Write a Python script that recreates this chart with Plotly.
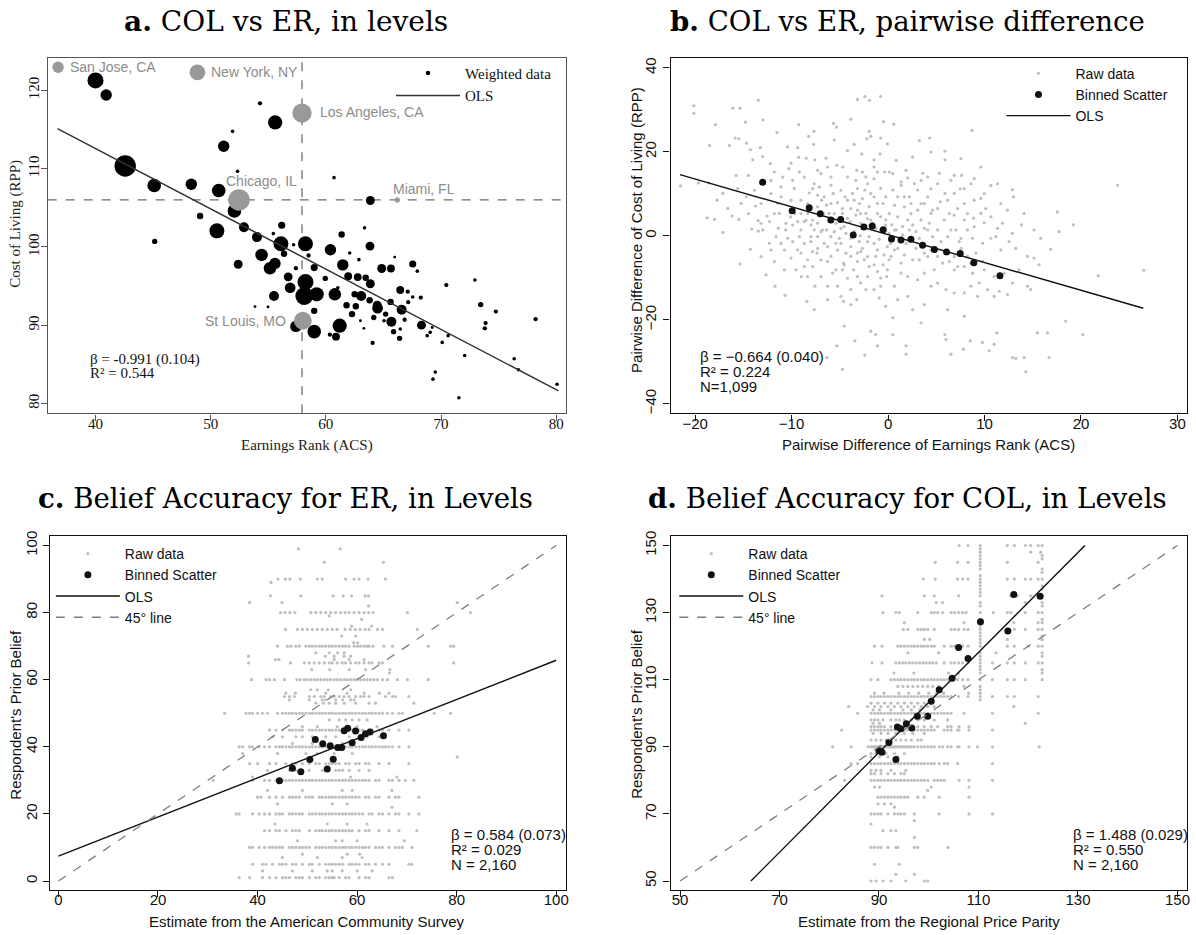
import plotly.graph_objects as go

# ---------------- Panel a: COL vs ER, in levels ----------------
a_er = [40.0,40.93,54.28,55.6,51.9,51.13,42.58,52.33,60.71,45.1,48.32,50.7,63.86,52.06,49.08,63.36,52.89,50.54,56.17,54.02,
        45.14,61.37,55.44,56.1,58.23,63.83,57.2,60.4,54.42,56.37,58.5,62.07,62.87,65.98,52.39,61.47,67.54,57.4,55.15,55.58,
        58.99,64.85,65.65,67.94,59.95,61.94,62.77,63.46,56.73,58.23,63.86,70.46,72.94,56.9,61.04,66.46,67.11,60.78,62.5,63.07,
        58.13,59.2,55.5,68.24,67.54,67.15,65.62,63.8,64.46,73.44,74.76,64.49,61.8,62.6,66.58,58.99,53.85,54.98,65.19,62.27,
        63.0,64.16,65.05,65.69,66.84,61.2,68.3,69.23,73.87,73.8,78.21,57.4,58.99,63.3,65.88,66.46,60.35,60.88,66.4,68.8,
        69.06,70.62,64.06,70.1,72.05,76.35,76.72,69.5,69.3,71.55,80.07]
a_col = [121.27,119.4,118.35,115.9,114.76,112.86,110.33,109.65,108.85,107.84,108.0,107.2,105.93,104.6,103.95,102.43,102.5,102.05,102.77,101.25,
         100.7,101.58,101.7,100.4,100.4,100.1,100.27,99.64,98.97,99.13,98.9,99.22,98.37,98.7,97.78,97.7,97.82,97.27,97.27,97.87,
         97.36,97.24,97.24,96.9,95.97,96.26,96.14,96.05,96.17,95.5,95.29,95.12,95.76,94.78,94.78,94.49,94.28,93.94,93.94,93.73,
         93.73,93.94,93.73,93.52,93.6,92.93,92.97,93.18,92.55,92.63,91.74,92.16,92.55,92.42,91.96,91.83,92.37,92.33,91.41,91.41,
         90.56,90.98,90.56,90.43,90.69,89.93,90.0,89.7,90.26,89.59,90.77,89.84,89.17,89.59,89.17,89.5,88.78,88.53,88.32,88.66,
         89.08,88.66,87.73,87.8,86.12,85.7,84.31,84.0,83.1,80.72,82.45]
a_weight = [45,32,12,40,10,32,60,10,10,38,32,38,25,38,18,10,28,42,20,28,
            15,18,10,42,42,25,10,32,35,18,12,10,10,8,25,32,20,12,35,32,
            20,25,22,10,15,22,22,18,25,45,25,12,10,30,10,22,12,35,18,28,
            50,40,28,12,10,12,18,18,25,15,12,30,18,18,28,18,8,8,15,18,
            8,15,10,28,12,40,25,8,12,12,12,32,38,8,15,10,12,22,15,10,
            10,10,12,10,10,10,10,10,10,10,10]
city_names = ["San Jose, CA", "New York, NY", "Los Angeles, CA", "Chicago, IL", "Miami, FL", "St Louis, MO"]
city_er = [36.75, 48.85, 57.93, 52.46, 66.2, 58.0]
city_col = [122.96, 122.3, 117.1, 106.0, 106.0, 90.56]
city_weight = [32, 44, 54, 60, 15, 50]
a_ref_er = 57.93
a_ref_col = 106.0
a_ols_x = [36.7, 80.2]
a_ols_y = [115.1, 81.6]

# ---------------- Panel b: pairwise differences ----------------
b_raw = [(-20.13,30.98),(-20.13,29.17),(-16.09,30.4),(-15.34,30.4),(-13.44,32.3),(-17.89,26.5),(-14.78,27.1),(-12.96,27.6),
 (-9.27,26.5),(-5.65,26.8),(-5.34,25.9),(-3.86,27.8),(-3.17,32.5),(-2.41,33.2),(-1.93,32.3),(-0.76,33.2),(-0.48,27.2),
 (-1.96,24.9),(-1.79,23.7),(-2.2,23.1),(-0.76,23.3),(-7.68,24.9),(-8.23,23.7),(-11.51,24.6),(-15.85,23.3),(-15.47,23.1),
 (-16.44,21.5),(-14.68,22.1),(-18.51,21.5),(-14.27,20.5),(-13.24,21.0),(-12.99,18.9),(-12.2,17.2),(-14.02,18.1),
 (-10.41,21.2),(-9.37,21.0),(-7.72,21.8),(-5.58,22.8),(-4.2,20.3),(-3.51,21.8),(-2.72,19.5),(-1.45,18.1),(-0.82,19.5),
 (-0.07,21.9),(-10.06,17.3),(-9.27,18.7),(-8.48,18.5),(-7.58,18.1),(-6.44,18.5),(-6.27,16.4),(-5.31,16.8),(-4.69,16.4),
 (-3.24,15.6),(-2.66,15.2),(-1.45,16.4),(-0.35,15.2),(-15.75,14.4),(-14.47,14.4),(-11.79,15.2),(-10.92,14.0),(-10.3,16.0),
 (-12.13,13.2),(-18.58,12.6),(-19.65,12.6),(-21.51,11.9),(-17.13,10.1),(-17.71,8.5),(-18.75,4.3),(-17.99,3.9),(-17.13,0.8),
 (-16.16,4.7),(-15.47,3.9),(-15.23,7.7),(-14.47,5.3),(-13.75,7.1),(-13.47,3.6),(-12.54,4.7),(-12.3,3.4),(-14.13,1.6),
 (-13.44,1.1),(-11.37,1.8),(-10.61,1.4),(-10.41,-0.6),(-10.1,4.5),(-9.65,5.3),(-9.37,3.4),(-8.51,3.7),(-7.99,2.6),
 (-7.65,1.4),(-7.3,6.9),(-6.68,5.3),(-6.37,1.4),(-5.92,-0.2),(-5.06,-0.6),(-4.55,2.2),(-3.93,3.4),(-2.89,0.0),(-2.13,-1.4),
 (-1.45,-1.8),(-0.93,-0.8),(-0.07,-2.6),(-8.17,10.2),(-7.65,12.4),(-7.13,11.6),(-6.62,9.3),(-5.69,10.1),(-5.24,7.9),
 (-4.45,9.3),(-3.69,10.1),(-2.97,7.7),(-2.41,10.9),(-1.45,9.3),(-0.76,11.3),(-0.52,7.7),(-9.03,8.5),(-9.72,11.3),
 (-8.69,14.0),(-11.44,7.7),(-11.1,9.3),(-3.86,6.5),(-2.86,5.3),(-2.13,4.1),(-1.1,5.3),(-8.69,-1.8),(-9.03,-4.1),
 (-8.34,-5.7),(-7.37,-4.1),(-6.62,-1.8),(-5.92,-4.9),(-5.24,-3.4),(-4.62,-6.5),(-3.86,-4.9),(-3.58,-8.1),(-3.17,-4.1),
 (-2.48,-5.7),(-1.96,-7.3),(-1.28,-4.9),(-0.52,-6.9),(0.1,-5.7),(-11.1,-1.8),(-12.13,-3.4),(-12.99,1.4),(-14.27,-3.2),
 (-15.34,-6.7),(-12.65,-9.3),(-11.72,-12.0),(-10.68,-14.2),(-10.06,-5.3),(-9.54,-8.1),(-8.34,-9.7),(-7.58,-12.0),
 (-6.96,-9.7),(-6.27,-12.0),(-5.24,-12.0),(-4.72,-8.1),(-4.2,-10.1),(-3.86,-12.8),(-2.86,-11.2),(-2.13,-9.7),(-1.45,-12.8),
 (-0.76,-12.0),(-0.14,-9.7),(-8.41,-15.6),(-4.62,-15.6),(-3.86,-16.4),(-3.24,-15.2),(-0.93,-14.8),(-0.24,-16.8),
 (-4.55,-21.5),(-3.44,-25.0),(-1.79,-22.7),(-1.28,-23.5),(-1.1,-26.2),(-5.31,-26.2),(-2.41,-28.4),(-6.34,-29.0),(-4.72,-31.8),
 (0.59,26.6),(4.31,23.3),(8.69,25.1),(5.9,20.2),(5.9,18.1),(0.14,15.2),(0.49,14.8),(2.04,13.8),(3.59,14.9),(5.31,14.9),
 (6.86,14.4),(7.62,14.4),(11.35,12.4),(10.66,12.0),(12.89,11.0),(13.0,9.3),(9.62,8.9),(10.13,6.5),(8.59,12.4),(7.49,11.2),
 (5.9,10.1),(4.45,11.2),(3.07,10.9),(1.69,9.3),(0.66,7.3),(1.0,4.5),(2.38,5.3),(3.42,3.8),(4.62,6.1),(5.42,8.1),(6.35,5.3),
 (7.21,6.5),(8.24,5.3),(8.86,4.2),(9.97,3.1),(11.17,-0.2),(11.86,3.0),(12.89,0.6),(13.83,2.6),(12.55,-1.4),(13.24,-3.0),
 (14.44,-4.9),(15.13,-5.3),(15.65,-6.9),(16.86,-3.2),(17.72,1.0),(19.2,2.6),(17.55,5.7),(0.31,-4.9),(1.35,-6.5),(2.55,-5.7),
 (3.76,-4.1),(4.79,-8.1),(5.66,-6.5),(6.86,-4.9),(7.9,-7.3),(8.76,-8.9),(9.45,-11.2),(10.31,-12.8),(11.0,-14.4),
 (11.52,-13.2),(12.38,-14.0),(14.44,-12.0),(14.79,-12.8),(0.66,-12.0),(1.0,-15.2),(2.55,-17.6),(3.42,-20.7),(0.49,-19.5),
 (0.49,-23.5),(1.87,-26.2),(1.87,-28.2),(5.9,-23.5),(6.0,-24.7),(6.52,-28.2),(7.83,-27.0),(8.52,-25.0),(9.79,-25.4),
 (10.48,-27.4),(11.0,-25.8),(11.28,-23.1),(12.89,-29.0),(13.24,-29.2),(14.1,-29.0),(14.28,-32.4),(15.48,-23.1),
 (16.52,-23.1),(16.69,-29.0),(18.41,-20.3),(20.2,-23.5),(21.79,-9.5),(23.8,12.1),(26.5,-8.2),
 (0.14,5.3),(0.38,2.6),(0.83,1.4),(1.52,2.2),(2.04,3.8),(2.55,2.6),(2.9,1.0),(3.24,-0.6),(4.11,1.4),(4.28,3.0),(5.14,1.4),
 (5.49,-1.4),(6.18,-0.2),(7.04,1.4),(7.56,-0.6),(8.24,1.4),(0.24,-1.8),(1.0,-3.0),(1.87,-1.8),(2.9,-3.0),(4.45,-3.4),
 (5.14,-4.9),(6.18,-3.7),(7.56,-3.0),(8.24,-4.9),(9.11,-4.1),(9.8,-6.1),(6.86,-8.1),(3.76,-8.9),(2.04,-9.7),(4.45,-12.0),
 (6.0,-12.8),(7.9,-13.6),(8.59,-12.0),(0.49,10.9),(1.35,12.0),(2.21,9.3),(3.42,7.7),(4.11,9.3),(6.18,8.5),(6.86,10.1),
 (7.9,7.7),(8.93,8.5),(5.14,12.4),(3.42,13.2),(1.87,15.6),(-7.3,3.0),(-5.58,5.3),(-4.89,3.8),(-3.17,6.1),(-2.48,2.2),
 (-1.62,3.0),(-0.76,1.4),(-0.24,3.8),(-3.51,1.0),(-4.89,-1.8),(-3.86,-2.6),(-2.66,-3.0),(-7.99,-0.2),(-6.96,1.0),
 (-7.3,-3.0),(-6.27,-6.1),(-5.41,-8.1),(-7.82,-7.3),(-8.99,-9.7),(-1.1,-8.5),(-0.07,-8.1),(-3.17,-9.7),(-9.03,5.3),
 (-8.34,7.7),(-5.92,7.7),(-4.72,6.5),(-1.96,6.9),(-3.51,8.5),(-1.45,13.6),(-4.2,14.0),(-5.92,14.0),(-7.3,15.6),
 (-2.13,12.4),(-10.06,8.5),(-11.79,5.3),(-13.16,3.0),(-10.75,-3.4),(-9.89,-1.4),
 (-7.82,11.25),(-7.3,9.67),(-6.89,8.49),(-6.37,7.3),(-6.1,5.34),(-5.75,4.15),(-5.41,2.97),(-4.89,1.78),(-4.37,0.6),
 (-6.79,1.39),(-5.58,0.99),(-4.72,5.34),(-4.2,4.15),(-3.34,4.94),(-2.82,2.97),(-2.3,5.34),(-1.79,3.76),(-1.27,1.78),
 (-0.76,4.54),(-0.24,2.57),(0.1,0.6),(-1.96,-0.19),(-2.99,-1.37),(-3.86,-0.58),(-2.82,-3.75),(-2.13,-4.94),(-1.1,-3.35),
 (-0.41,-4.54),(-7.99,-1.37),(-7.3,-0.19),(-6.27,-2.56),(-5.41,-1.77),(-4.37,-4.14),(-6.96,-5.73),(-7.82,-3.75),
 (-9.03,1.39),(-9.2,-0.19),(-9.89,2.57),(-8.68,3.36),(-8.33,5.34),(-7.82,3.76),(-5.92,12.04),(-4.89,10.86),(-4.2,8.49),
 (-3.17,11.25),(-2.65,8.88),(-1.79,10.07),(-1.1,7.7),(-0.24,9.28),(-2.3,14.02),(-3.34,13.23),(-1.1,15.2),(-6.96,14.8),
 (-9.2,15.2),(-9.89,13.23),(-11.1,11.65),(-12.13,10.07),(-13.16,7.7),(-13.85,10.86),(-14.71,9.28),(-15.58,11.25),
 (-16.61,6.52),(-11.27,5.34),(-10.58,2.97),(-11.61,-0.19),(-12.3,-1.77),(-13.16,-4.94),(-11.78,-6.12),(-10.75,-8.09),
 (-9.37,-3.35),(-8.68,-7.3),(-5.75,-8.88),(-4.55,-6.91),(-3.17,-6.12),(-1.44,-6.91),(-0.76,-10.07),(-2.3,-12.83),
 (-4.89,-14.41),(-6.27,-15.2),(-7.65,-17.56),
 (1.0,9.28),(1.69,6.91),(2.38,7.7),(3.07,6.12),(3.76,7.7),(4.45,5.34),(5.14,6.52),(5.83,3.76),(6.86,4.94),(7.9,3.76),
 (8.93,2.18),(9.62,5.34),(10.66,4.54),(11.35,1.78),(0.66,1.39),(1.52,0.21),(2.21,1.39),(3.76,1.78),(4.62,-0.19),
 (6.52,1.39),(7.38,-1.37),(8.76,-0.58),(9.8,-1.77),(10.66,-0.58),(11.69,-3.35),(0.66,-3.35),(1.69,-4.54),(3.24,-5.73),
 (4.11,-4.94),(6.35,-6.12),(7.21,-7.3),(8.59,-6.52),(9.97,-8.09),(11.0,-9.67),(12.03,-8.88),(12.89,-11.25),(13.58,-8.09),
 (1.35,-8.88),(3.07,-10.46),(5.14,-11.25),(6.86,-13.62),(9.28,-14.41),(2.04,-14.41),(3.76,-16.38),(6.18,-17.56),
 (7.9,-19.14),(1.35,12.83),(2.73,12.44),(4.11,14.02),(6.52,13.23),(7.9,11.25),(8.93,13.62),(9.97,10.07),(11.69,7.7),
 (12.38,6.12),(14.1,5.34),(15.13,1.39),(15.82,-0.58),(0.83,17.97),(2.55,18.75),(4.45,19.94),(7.56,18.36),(9.62,16.39),
 (3.24,22.71)]
b_bin_x = [-13.0,-9.94,-8.17,-7.03,-5.93,-4.91,-3.61,-2.51,-1.64,-0.5,0.36,1.34,2.37,3.58,4.8,6.06,7.48,8.89,11.6]
b_bin_y = [12.76,5.96,6.67,5.25,3.75,3.91,0.2,2.09,2.33,1.46,-0.75,-0.99,-0.83,-2.25,-3.28,-3.83,-4.23,-6.44,-9.5]
b_ols_x = [-21.57, 26.46]
b_ols_y = [14.57, -17.26]

# ---------------- Panel c: belief accuracy, ER ----------------
c_rows_y = [99,95,90,89,85,83,82,80,79,78,76,75,73,71,70,68,67,66,65,63,62,60,57,56,55,54,53,50,
            48,46,45,43,41,40,38,37,35,33,31,30,27,25,23,22,20,17,15,12,10,8,7,5,3,1]
c_rows_x = [
 [48.2,56.6],
 [53.4,65.3],
 [44.1,45.6,46.5,48.6,52.0,53.0,57.7,59.4,60.4,62.2,65.7],
 [42.7],
 [42.6,48.7,55.2,57.2,58.9,61.6,62.3],
 [38.4,44.9,80.1],
 [62.3],
 [44.6,45.5,46.5,47.5,50.7,51.7,52.7,53.7,54.7,55.7,56.7,57.6,58.4,59.4,60.4,61.4,62.3,63.2,70.1,82.8],
 [54.4],
 [60.9],
 [58.9,62.9],
 [45.6,48.0,49.0,50.0,51.0,52.0,53.0,54.0,55.0,56.0,57.6,58.6,59.6,60.6,61.6,62.4,64.1,65.1,72.1],
 [56.9,59.7],
 [59.3,60.1],
 [44.0,46.0,46.7,47.7,48.4,49.7,50.4,51.0,51.7,52.4,53.0,53.7,54.4,55.0,55.7,56.4,57.1,57.7,58.4,59.4,60.1,60.7,61.4,62.0,62.4,63.2,65.4,67.1,74.3,78.8,79.4],
 [51.7,54.4,56.1,57.4],
 [38.2,53.6,55.4,57.4,58.7],
 [43.6,44.3,55.4,58.4,61.4],
 [38.2,46.6,49.4,50.4,51.4,52.4,53.4,54.4,55.0,56.0,57.0,57.7,58.7,59.7,60.4,61.4,62.4,63.0,64.4,65.1,79.4],
 [50.9,54.5,58.4,61.7,66.6],
 [66.5],
 [38.8,41.7,42.4,43.4,45.4,47.9,48.6,49.4,50.0,50.7,51.4,52.0,52.7,53.4,54.0,54.7,55.4,56.0,56.7,57.4,58.0,58.7,59.4,60.0,60.7,61.4,62.0,62.7,63.4,64.1,65.1,66.1,68.1,70.1,74.3],
 [50.7,52.0,54.2,58.7],
 [45.7,47.6,53.7,58.0,61.4,64.5,66.4],
 [45.4,46.4,47.4,50.4,51.4,52.7,53.4,54.7,55.4,56.4,57.4,58.4,59.7,60.7,61.4,62.4,65.7,67.1,67.7,70.4],
 [46.4,50.4,53.0,53.7,55.7,57.1,58.7,59.4],
 [51.7,53.2,54.4,55.7,57.4,59.7,62.4,63.7,71.4],
 [33.4,37.7,38.4,39.0,40.0,41.0,42.0,44.0,45.0,45.7,46.4,47.0,47.7,48.4,49.0,49.7,50.4,51.0,51.7,52.4,53.0,53.7,54.4,55.0,55.7,56.4,57.1,57.7,58.4,59.0,59.7,60.4,61.1,61.7,62.4,63.0,63.7,64.4,65.1,66.1,67.1,68.4,69.1,75.5,78.8],
 [54.4,56.4,57.7,59.0,60.4,62.0],
 [49.0,52.0,56.0,58.0,60.0,64.0],
 [42.4,43.7,45.0,46.4,47.0,47.7,48.4,49.0,50.4,51.0,51.7,52.4,53.0,53.7,54.4,55.0,55.7,56.4,57.1,57.7,58.4,59.0,59.7,60.4,61.1,62.4,63.0,64.4,65.1,66.4,68.4,70.4],
 [43.0,45.0,47.7,49.0,51.0,53.7,55.7,58.4,62.0,64.4],
 [47.0,51.0,53.0,57.0],
 [36.3,37.0,38.4,39.0,40.3,41.4,42.4,43.7,44.4,45.0,45.7,46.4,47.0,47.7,48.4,49.0,49.7,50.4,51.0,51.7,52.4,53.0,53.7,54.4,55.0,55.7,56.4,57.1,57.7,58.4,59.0,59.7,60.4,61.1,61.7,62.4,63.0,63.7,64.4,65.1,65.7,66.4,67.1,68.4,70.4],
 [37.0,44.0,49.7,52.0,55.4,59.0],
 [80.1],
 [38.4,40.0,42.4,43.7,45.7,47.0,47.7,49.0,50.4,51.7,52.4,53.7,54.4,55.0,55.7,56.4,57.7,58.4,59.7,60.4,61.7,62.4,64.4,66.4,70.4],
 [42.0,46.4,47.7,50.4,53.0,55.7,56.4,57.1,58.4,60.4,62.4],
 [39.0,58.7,68.0],
 [31.1,39.0,41.4,42.4,43.7,44.4,45.0,45.7,46.4,47.0,47.7,48.4,49.0,49.7,50.4,51.0,51.7,52.4,53.0,53.7,54.4,55.0,55.7,56.4,57.1,57.7,58.4,59.0,59.7,60.4,61.1,61.7,62.4,63.7,64.4,66.4,67.1,68.4,69.7,71.4],
 [42.0,49.0,57.0,59.0,67.0],
 [40.0,40.7,42.4,43.7,45.0,46.4,47.0,47.7,48.4,49.7,50.4,51.0,52.4,53.0,53.7,54.4,55.0,55.7,56.4,57.1,57.7,58.4,59.0,59.7,60.4,61.7,62.4,63.7,64.4,66.4,67.7,68.4,72.4],
 [44.0,55.0,58.0],
 [67.0],
 [35.7,36.3,39.0,40.3,41.4,42.4,43.7,44.4,45.0,46.4,47.0,47.7,48.4,49.0,50.4,51.0,51.7,52.4,53.0,53.7,54.4,55.0,55.7,56.4,57.1,57.7,58.4,59.0,59.7,60.4,61.1,62.4,63.0,64.4,65.1,66.4,67.7,68.4,70.4,72.4],
 [43.5,54.0,58.0,62.0],
 [41.4,42.4,43.7,44.4,45.7,47.0,47.7,48.4,50.4,51.7,52.4,53.0,53.7,54.4,55.0,55.7,56.4,57.1,57.7,58.4,59.0,60.4,61.7,62.4,64.4,66.4,68.4,72.0],
 [48.0,55.7,57.0,60.0,69.5],
 [38.4,39.0,40.3,41.4,42.4,43.0,43.7,44.4,45.0,46.4,47.0,47.7,48.4,49.0,49.7,50.4,51.7,52.4,53.0,53.7,54.4,55.0,55.7,56.4,57.1,57.7,58.4,59.0,59.7,60.4,61.1,61.7,62.4,63.7,64.4,65.1,66.4,67.7,68.4,69.1,71.0],
 [49.0,58.0,60.5],
 [45.0,52.0,57.0,61.0],
 [39.0,41.0,41.7,43.0,44.4,45.0,45.7,47.0,47.7,49.0,50.4,51.0,52.4,53.7,54.4,55.0,55.7,56.4,57.1,58.4,59.0,59.7,60.4,61.7,62.4,63.7,65.1,66.4,70.4,71.0],
 [41.0,47.0,51.0,54.0,55.0,57.0,60.0,63.0],
 [36.3,38.4,41.0,42.4,43.7,45.0,45.7,46.4,47.7,48.4,49.0,50.4,51.7,52.4,53.7,54.4,55.0,55.4,56.4,57.7,58.4,60.4,61.7,62.4,66.4,67.1],
]
c_bin_x = [44.4,47.0,48.7,50.5,51.6,53.1,54.0,54.6,55.2,56.1,56.9,57.4,58.1,59.0,59.7,60.8,61.7,62.6,65.3]
c_bin_y = [29.9,33.6,32.6,36.2,42.2,40.9,33.4,40.3,36.3,39.8,39.8,44.8,45.5,41.2,44.7,42.8,43.9,44.4,43.3]
c_ols_x = [0, 100]
c_ols_y = [7.4, 65.8]
c_diag = [0, 100]

# ---------------- Panel d: belief accuracy, COL ----------------
d_rows_y = [150,148,145,140,135,133,130,127,125,122,120,118,115,112,110,108,106,105,103,102,101,100,98,97,96,95,94,92,90,
            88,87,85,83,82,80,78,77,75,73,72,70,68,67,65,63,60,55,52,50]
d_rows_x = [
 [106.1,107.9,110.35,115.8,117.2,119.4,120.5,122.0,122.8],
 [110.35,120.5,122.5],
 [101.3,105.8,107.9,110.35,115.8,122.0],
 [98.9,101.3,105.8,106.8,107.9,110.35,115.8,117.2,119.4,120.5,122.0,122.8],
 [90.6,99.1,101.1,106.0,110.35,116.5,117.8,120.5,122.0],
 [101.5,102.8,119.4],
 [90.8,93.4,94.1,97.8,100.5,101.1,101.8,102.8,104.5,105.2,106.0,106.8,107.5,110.35,113.0,115.8,116.5,119.4,122.0,122.8],
 [95.1,107.1,117.1,122.0],
 [94.9,95.8,97.8,98.5,99.1,99.8,101.1,104.5,105.2,106.0,107.1,107.9,110.35,115.8,117.2,119.4,122.0,122.8],
 [99.1,100.2,115.8,122.8],
 [89.1,90.6,93.8,94.4,95.1,95.8,96.5,97.1,97.8,98.5,99.1,99.8,100.5,101.1,103.1,104.5,105.2,105.8,106.8,107.9,110.35,115.8,117.2,120.0,122.0,122.8],
 [95.8,102.0,113.5],
 [88.6,90.6,93.4,94.1,94.8,95.4,96.1,96.8,97.5,98.2,98.9,99.5,100.2,100.8,101.5,103.1,104.5,105.2,106.0,106.8,107.9,110.35,112.8,115.8,117.2,119.4,122.0,122.8],
 [93.0,97.0,104.0,106.0],
 [88.4,89.8,92.4,93.1,93.8,94.4,95.1,95.8,96.5,97.1,97.8,98.5,99.1,99.8,100.5,101.1,101.8,102.5,103.1,103.8,104.5,105.8,106.8,107.9,110.35,112.8,115.8,117.2,119.4,122.8],
 [93.8,94.8,95.8,96.8,97.8,98.8,99.8,100.8,102.0,107.1],
 [89.1,91.0,94.0,96.0,98.0,100.0,101.5,103.0,108.0],
 [88.4,89.1,89.8,90.4,91.1,91.8,92.4,93.1,93.8,94.4,95.1,95.8,96.5,97.1,97.8,98.5,99.1,99.8,100.5,101.1,101.8,102.5,103.1,103.8,104.5,106.0,107.9,110.35,112.8,115.8,117.2,122.0],
 [88.4,89.8,91.1,92.4,93.8,95.1,96.5,97.8,99.1,100.5],
 [83.9,87.7,89.1,90.4,91.8,93.1,94.4,95.8,97.1,98.5,99.8,101.1,117.1],
 [88.8,90.1,92.4,94.8,96.5,98.2],
 [85.7,88.4,89.1,89.8,90.4,91.1,91.8,92.4,93.1,93.8,94.4,95.1,95.8,96.5,97.1,97.8,98.5,99.1,99.8,100.5,101.1,101.8,102.5,103.1,103.8,104.5,107.1,112.8,122.0],
 [88.4,89.1,89.8,90.8,92.4,93.4,94.1,95.1,96.5,97.8,99.1,101.1,103.8],
 [88.8,90.1,119.4],
 [88.4,89.1,89.8,90.4,91.1,92.4,93.4,94.4,95.4,96.5,97.8,99.1,100.5,101.8,103.8,104.5,106.1,108.1],
 [82.5,88.4,89.1,89.8,90.4,91.1,91.8,92.4,93.1,93.8,94.4,95.1,95.8,96.5,97.1,97.8,98.5,99.1,99.8,100.5,101.1,103.1,103.8,104.5,105.8,106.1,108.1,112.8],
 [88.8,90.4,91.8,93.4,95.1,96.8,99.1],
 [88.4,89.4,90.4,91.4,92.4,93.4,94.4,95.4,96.5,97.8,98.5],
 [80.7,84.4,87.8,88.4,88.8,89.1,89.4,89.8,90.1,90.4,90.8,91.1,91.4,91.8,92.1,92.4,92.8,93.1,93.4,93.8,94.1,94.4,94.8,95.1,95.4,95.8,96.1,96.5,97.1,97.8,98.5,99.1,99.8,100.5,101.1,102.1,102.8,103.8,104.5,105.8,106.1,108.1,109.8,112.8,122.2],
 [88.4,89.4,90.4,91.4,93.1,95.1],
 [88.4,90.1,91.8,93.8],
 [84.4,85.7,88.4,89.1,89.8,90.4,91.1,91.8,92.4,93.1,93.8,94.4,95.1,95.8,96.5,97.1,97.8,98.5,99.1,99.8,100.5,101.1,102.1,103.1,103.8,105.8,112.8],
 [88.4,89.4,90.4,92.4,95.4],
 [88.4,89.1,90.4,91.8,93.1,94.4,95.1],
 [83.1,88.4,89.1,89.8,90.4,91.1,91.8,92.4,93.1,93.8,94.4,95.1,95.8,96.5,97.1,97.8,98.5,99.1,99.8,101.1,101.8,102.5,103.1,106.1,108.1,112.8],
 [89.1,90.1,100.5,108.1],
 [99.8],
 [89.8,90.4,91.1,91.8,92.4,93.1,93.8,94.4,95.1,95.8,97.8,99.1,102.1,108.1],
 [89.8,91.1,92.4],
 [93.1],
 [88.4,89.1,89.8,90.4,91.8,93.1,93.8,94.4,95.1,97.1,102.1,108.1,112.8],
 [97.1],
 [88.4],
 [90.8,92.4,93.4],
 [97.1],
 [88.4,89.1,89.8,90.4,91.8,93.4,93.8,97.1,97.8,103.9],
 [89.1,94.1],
 [93.4,97.1],
 [88.4,89.4,90.8,92.4,95.4,99.1,99.8],
]
d_cols_x = [110.35, 122.8]
d_cols_y = [
 [149,147,146,144,143,141,139,138,137,136,133,132,128,127,126,124,123,122,121,118,117,116,114,113,112,108,107,106,104],
 [147,146,143,142,138,137,133,132,128,127,123,122,118,117,113,112],
]
d_bin_x = [90.0,90.6,92.0,93.4,93.7,94.4,95.5,96.6,97.7,99.8,100.5,102.1,104.7,106.0,107.9,110.4,115.9,117.1,122.4]
d_bin_y = [88.8,88.4,91.3,86.2,95.9,95.4,96.9,95.6,99.1,99.1,103.6,107.0,110.4,119.6,116.3,127.3,124.5,135.4,134.9]
d_ols_x = [64.25, 131.4]
d_ols_y = [50, 150]
d_diag = [50, 150]

# ---------------- styling ----------------
W, H = 1196, 935
SANS = "Liberation Sans, Arial, Helvetica, sans-serif"
SERIF = "Liberation Serif, Times New Roman, serif"
TFONT = "DejaVu Serif, serif"
RAW = "#bfbfbf"
INK = "#111111"


def flat_rows(ys, xs):
    px, py = [], []
    for y, row in zip(ys, xs):
        px += row
        py += [y] * len(row)
    return px, py


def flat_cols(xs, ys):
    px, py = [], []
    for x, col in zip(xs, ys):
        px += [x] * len(col)
        py += col
    return px, py


fig = go.Figure()

# panel a
fig.add_trace(go.Scatter(x=[a_ref_er, a_ref_er], y=[78.73, 124.14], mode="lines", xaxis="x", yaxis="y",
                         line=dict(color="#6e6e6e", width=1.3, dash="dash"), showlegend=False, hoverinfo="skip"))
fig.add_trace(go.Scatter(x=[35.85, 80.83], y=[a_ref_col, a_ref_col], mode="lines", xaxis="x", yaxis="y",
                         line=dict(color="#6e6e6e", width=1.3, dash="dash"), showlegend=False, hoverinfo="skip"))
fig.add_trace(go.Scatter(x=a_er, y=a_col, mode="markers", xaxis="x", yaxis="y", showlegend=False,
                         marker=dict(size=a_weight, sizemode="diameter", sizeref=2.8, color="#000000",
                                     opacity=1, line=dict(width=0))))
fig.add_trace(go.Scatter(x=city_er, y=city_col, mode="markers", xaxis="x", yaxis="y", showlegend=False,
                         marker=dict(size=city_weight, sizemode="diameter", sizeref=2.8, color="#999999",
                                     opacity=1, line=dict(width=0))))
fig.add_trace(go.Scatter(x=a_ols_x, y=a_ols_y, mode="lines", xaxis="x", yaxis="y", showlegend=False,
                         line=dict(color="#333333", width=1.5)))
fig.add_trace(go.Scatter(x=[None], y=[None], mode="markers", name="Weighted data", xaxis="x", yaxis="y",
                         marker=dict(size=4.5, color="#000000"), legend="legend"))
fig.add_trace(go.Scatter(x=[None], y=[None], mode="lines", name="OLS", xaxis="x", yaxis="y",
                         line=dict(color="#333333", width=1.5), legend="legend"))

# panel b
bx = [p[0] for p in b_raw]
by = [p[1] for p in b_raw]
fig.add_trace(go.Scatter(x=bx, y=by, mode="markers", name="Raw data", xaxis="x2", yaxis="y2",
                         marker=dict(size=3.2, color=RAW), legend="legend2"))
fig.add_trace(go.Scatter(x=b_bin_x, y=b_bin_y, mode="markers", name="Binned Scatter", xaxis="x2", yaxis="y2",
                         marker=dict(size=7, color=INK), legend="legend2"))
fig.add_trace(go.Scatter(x=b_ols_x, y=b_ols_y, mode="lines", name="OLS", xaxis="x2", yaxis="y2",
                         line=dict(color=INK, width=1.4), legend="legend2"))

# panel c
cx, cy = flat_rows(c_rows_y, c_rows_x)
fig.add_trace(go.Scatter(x=cx, y=cy, mode="markers", name="Raw data", xaxis="x3", yaxis="y3",
                         marker=dict(size=3.2, color=RAW), legend="legend3"))
fig.add_trace(go.Scatter(x=c_bin_x, y=c_bin_y, mode="markers", name="Binned Scatter", xaxis="x3", yaxis="y3",
                         marker=dict(size=7, color=INK), legend="legend3"))
fig.add_trace(go.Scatter(x=c_ols_x, y=c_ols_y, mode="lines", name="OLS", xaxis="x3", yaxis="y3",
                         line=dict(color=INK, width=1.4), legend="legend3"))
fig.add_trace(go.Scatter(x=c_diag, y=c_diag, mode="lines", name="45° line", xaxis="x3", yaxis="y3",
                         line=dict(color="#7f7f7f", width=1.3, dash="dash"), legend="legend3"))

# panel d
dx1, dy1 = flat_rows(d_rows_y, d_rows_x)
dx2, dy2 = flat_cols(d_cols_x, d_cols_y)
fig.add_trace(go.Scatter(x=dx1 + dx2, y=dy1 + dy2, mode="markers", name="Raw data", xaxis="x4", yaxis="y4",
                         marker=dict(size=3.2, color=RAW), legend="legend4"))
fig.add_trace(go.Scatter(x=d_bin_x, y=d_bin_y, mode="markers", name="Binned Scatter", xaxis="x4", yaxis="y4",
                         marker=dict(size=7, color=INK), legend="legend4"))
fig.add_trace(go.Scatter(x=d_ols_x, y=d_ols_y, mode="lines", name="OLS", xaxis="x4", yaxis="y4",
                         line=dict(color=INK, width=1.4), legend="legend4"))
fig.add_trace(go.Scatter(x=d_diag, y=d_diag, mode="lines", name="45° line", xaxis="x4", yaxis="y4",
                         line=dict(color="#7f7f7f", width=1.3, dash="dash"), legend="legend4"))


def axis(domain, rng, tickvals, family, color, anchor, angle=None, standoff=0):
    d = dict(domain=domain, range=rng, tickmode="array", tickvals=tickvals,
             ticks="outside", ticklen=6, tickwidth=1, tickcolor=color,
             showline=True, linecolor=color, linewidth=1.3, mirror=True,
             showgrid=False, zeroline=False, anchor=anchor,
             tickfont=dict(family=family, size=15, color="#111111"),
             ticklabelstandoff=standoff)
    if angle is not None:
        d["tickangle"] = angle
    return d


XA = [47.8 / W, 567.2 / W]
XB = [672.2 / W, 1189.9 / W]
XC = [49.8 / W, 567.2 / W]
YT = [1 - 411.0 / H, 1 - 53.3 / H]
YB = [1 - 890.7 / H, 1 - 534 / H]
XSO = -10   # x tick labels sit close to the axis

layout = dict(
    width=W, height=H, margin=dict(l=0, r=0, t=0, b=0),
    paper_bgcolor="white", plot_bgcolor="white", showlegend=True,
    xaxis=axis(XA, [35.85, 80.83], [40, 50, 60, 70, 80], SERIF, "#555555", "y", standoff=XSO),
    yaxis=axis(YT, [78.73, 124.14], [80, 90, 100, 110, 120], SERIF, "#555555", "x", angle=-90, standoff=-4),
    xaxis2=axis(XB, [-22.55, 30.98], [-20, -10, 0, 10, 20, 30], SANS, "#111111", "y2", standoff=XSO),
    yaxis2=axis(YT, [-42.29, 42.37], [-40, -20, 0, 20, 40], SANS, "#111111", "x2", angle=-90, standoff=1),
    xaxis3=axis(XC, [-1.76, 101.92], [0, 20, 40, 60, 80, 100], SANS, "#111111", "y3", standoff=XSO),
    yaxis3=axis(YB, [-2.67, 102.96], [0, 20, 40, 60, 80, 100], SANS, "#111111", "x3", angle=-90, standoff=0),
    xaxis4=axis(XB, [48.09, 151.9], [50, 70, 90, 110, 130, 150], SANS, "#111111", "y4", standoff=XSO),
    yaxis4=axis(YB, [47.33, 152.96], [50, 70, 90, 110, 130, 150], SANS, "#111111", "x4", angle=-90, standoff=1),
)


def leg(x, y, family, size):
    return dict(x=x / W, y=1 - y / H, xanchor="left", yanchor="top", bgcolor="rgba(0,0,0,0)",
                font=dict(family=family, size=size, color="#111111"), itemwidth=64,
                tracegroupgap=0, borderwidth=0)


layout["legend"] = leg(392, 52, SERIF, 15)
layout["legend2"] = leg(1004, 53, SANS, 14)
layout["legend3"] = leg(51, 536.5, SANS, 14)
layout["legend4"] = leg(676, 536.5, SANS, 14)

ann = []


def txt(x, y, s, family, size=15, color="#111111", xanchor="left", angle=0):
    ann.append(dict(x=x / W, y=1 - y / H, xref="paper", yref="paper", text=s, showarrow=False,
                    xanchor=xanchor, yanchor="middle", textangle=angle,
                    font=dict(family=family, size=size, color=color)))


# titles
txt(286.6, 16.5, "<b>a.</b> COL vs ER, in levels", TFONT, 28, "#000000", "center")
txt(909.6, 16.5, "<b>b.</b> COL vs ER, pairwise difference", TFONT, 27.6, "#000000", "center")
txt(286.0, 496.5, "<b>c.</b> Belief Accuracy for ER, in Levels", TFONT, 27.6, "#000000", "center")
txt(909.5, 496.5, "<b>d.</b> Belief Accuracy for COL, in Levels", TFONT, 27.6, "#000000", "center")
# axis titles
txt(307.5, 443, "Earnings Rank (ACS)", SERIF, 15, "#222222", "center")
txt(15.3, 220, "Cost of Living (RPP)", SERIF, 15, "#222222", "center", -90)
txt(931, 442.5, "Pairwise Difference of Earnings Rank (ACS)", SANS, 15, "#111111", "center")
txt(638, 226, "Pairwise Difference of Cost of Living (RPP)", SANS, 15, "#111111", "center", -90)
txt(308, 922.5, "Estimate from the American Community Survey", SANS, 15, "#111111", "center")
txt(15.3, 714, "Respondent's Prior Belief", SANS, 15, "#111111", "center", -90)
txt(931, 922.5, "Estimate from the Regional Price Parity", SANS, 15, "#111111", "center")
txt(638, 713, "Respondent's Prior Belief", SANS, 15, "#111111", "center", -90)
# statistics
txt(88, 357, "β = -0.991 (0.104)", SERIF, 15)
txt(88, 370.5, "R² = 0.544", SERIF, 15)
txt(699.6, 354, "β = −0.664 (0.040)", SANS, 15)
txt(699.6, 369, "R² = 0.224", SANS, 15)
txt(699.6, 384, "N=1,099", SANS, 15)
txt(449.7, 834.5, "β = 0.584 (0.073)", SANS, 15)
txt(449.7, 849.5, "R² = 0.029", SANS, 15)
txt(449.7, 865, "N = 2,160", SANS, 15)
txt(1073.2, 834.5, "β = 1.488 (0.029)", SANS, 15)
txt(1073.2, 849.5, "R² = 0.550", SANS, 15)
txt(1073.2, 865, "N = 2,160", SANS, 15)

# city labels anchored to the city points
city_anchor = ["left", "left", "left", "center", "center", "right"]
city_dx = [10, 11.7, 16, 22, 27, -14.6]
city_dy = [0, 0, 1, 18.7, 10.7, 0]
for name, ex, cy_, an, dx, dy in zip(city_names, city_er, city_col, city_anchor, city_dx, city_dy):
    ann.append(dict(x=ex, y=cy_, xref="x", yref="y", text=name, showarrow=False, xanchor=an,
                    yanchor="middle", xshift=dx, yshift=dy,
                    font=dict(family=SANS, size=14, color="#8c8c8c")))

layout["annotations"] = ann
fig.update_layout(**layout)

fig.write_html("out.html", config={"displayModeBar": False},
               post_script="document.body.style.margin='0';")
